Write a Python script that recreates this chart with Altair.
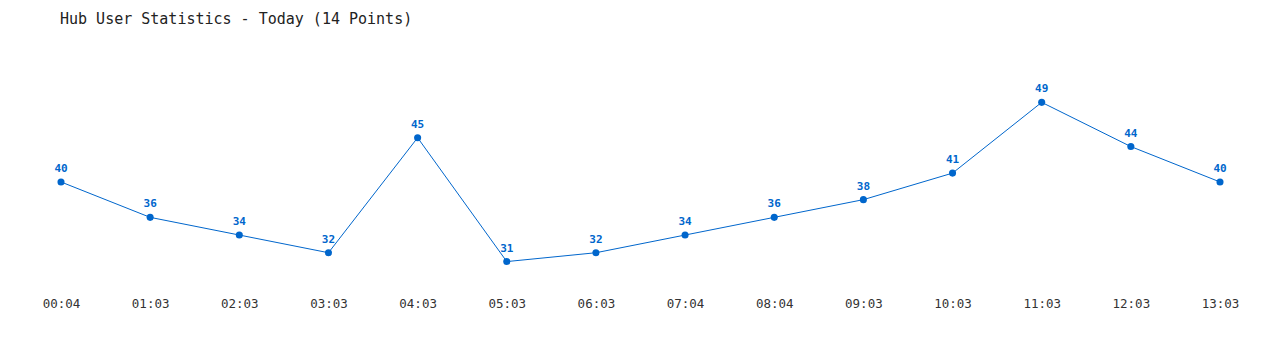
import altair as alt
import pandas as pd

times = ["00:04", "01:03", "02:03", "03:03", "04:03", "05:03", "06:03",
         "07:04", "08:04", "09:03", "10:03", "11:03", "12:03", "13:03"]
users = [40, 36, 34, 32, 45, 31, 32, 34, 36, 38, 41, 49, 44, 40]

df = pd.DataFrame({"time": times, "users": users})

FONT = "DejaVu Sans Mono"
BLUE = "#0066cc"

x = alt.X("time:N", sort=times,
          scale=alt.Scale(type="point", padding=0),
          axis=alt.Axis(title=None, domain=False, ticks=False, grid=False,
                        labelAngle=0, labelFont=FONT, labelFontSize=12.5,
                        labelColor="#333333", labelPadding=8))
y = alt.Y("users:Q", scale=alt.Scale(domain=[27.9, 53.9], nice=False, zero=False),
          axis=None)

base = alt.Chart(df).encode(x=x, y=y)

line = base.mark_line(color=BLUE, strokeWidth=1)
pts = base.mark_point(filled=True, color=BLUE, size=50, opacity=1)
labels = base.mark_text(dy=-13, font=FONT, fontSize=11, fontWeight="bold",
                        color=BLUE).encode(text="users:Q")

chart = (line + pts + labels).properties(
    width=1159, height=230,
    autosize=alt.AutoSizeParams(type="none"),
    padding={"left": 61, "top": 59, "right": 60, "bottom": 61},
    title=alt.TitleParams("Hub User Statistics - Today (14 Points)",
                          anchor="start", frame="group", dx=-1,
                          font=FONT, fontSize=15,
                          fontWeight="normal", color="#222222", offset=32),
).configure(background="white", view=alt.ViewConfig(stroke=None, strokeWidth=0))

chart.save("out.html", embed_options={"renderer": "svg", "actions": False})
